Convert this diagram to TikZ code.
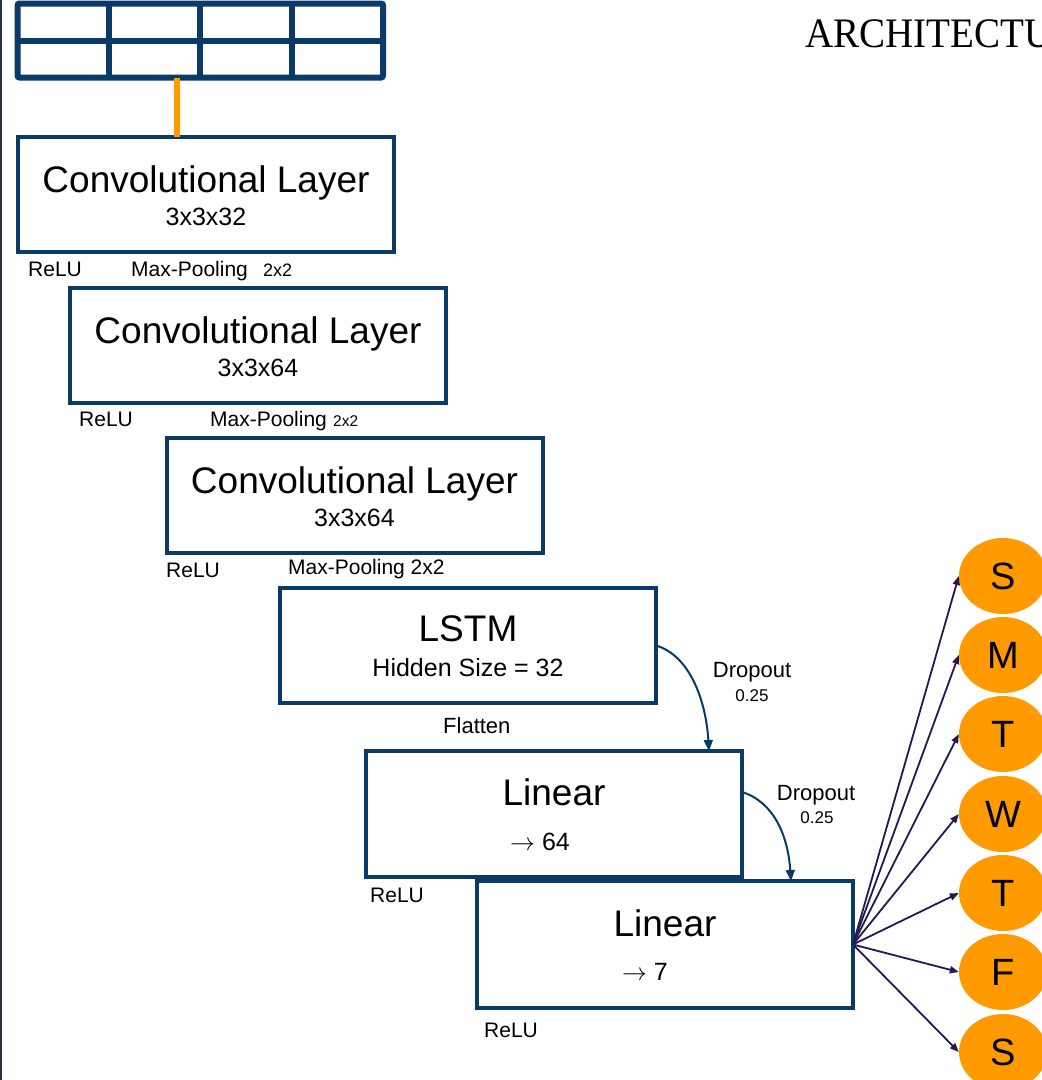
\documentclass[tikz,border=0pt]{standalone}
\usepackage{fontspec}
\setmainfont{Liberation Sans}
\newfontfamily\headfont[FakeStretch=0.93]{Liberation Serif}
\usetikzlibrary{arrows.meta,shapes.geometric,calc}
\definecolor{navy}{HTML}{0C3A66}
\definecolor{ink}{HTML}{221A50}
\definecolor{amber}{HTML}{FF9A00}
\definecolor{edgegray}{HTML}{2B3340}
\newcommand\setfs[1]{\fontsize{#1pt}{#1pt}\selectfont}

\begin{document}
\begin{tikzpicture}[x=1pt,y=-1pt,
  layer/.style={rectangle,draw=navy,line width=3.5pt,fill=white,anchor=north west,
    minimum width=376pt,minimum height=115pt,inner sep=0pt,outer sep=0pt},
  big/.style={inner sep=0pt,anchor=base,font=\setfs{37}},
  sub/.style={inner sep=0pt,anchor=base,font=\setfs{25}},
  note/.style={inner sep=0pt,anchor=base west,font=\setfs{21}},
  dlabel/.style={inner sep=0pt,anchor=base,font=\setfs{22}},
  drate/.style={inner sep=0pt,anchor=base,font=\setfs{17}},
  drop/.style={draw=navy,line width=2pt,-{Triangle[length=11pt,width=9pt]}},
  fan/.style={draw=ink,line width=1.8pt,-{Triangle[length=9pt,width=7pt]}},
  day/.style={ellipse,fill=amber,minimum width=88pt,minimum height=76pt,inner sep=0pt,
    font=\setfs{38}},
]
\useasboundingbox (0,0) rectangle (1042,1080);
\clip (0,0) rectangle (1042,1080);
\fill[white] (0,0) rectangle (1042,1080);
\draw[edgegray,line width=2pt] (1,0) -- (1,1080);

% title
\node[inner sep=0pt,anchor=base west,font=\headfont\setfs{42}] (title) at (805,47) {ARCHITECTU};

% input grid (2 x 4 cells)
\node[rectangle,draw=navy,line width=6pt,rounded corners=2pt,anchor=north west,
  minimum width=365.5pt,minimum height=74pt,inner sep=0pt,outer sep=0pt] (input) at (17.5,3.5) {};
\draw[navy,line width=6pt] (input.west) -- (input.east);
\foreach \k in {1,2,3}
  \draw[navy,line width=6pt] ($(input.north west)!\k/4!(input.north east)$)
                          -- ($(input.south west)!\k/4!(input.south east)$);

% layer boxes
\node[layer] (c1) at (18,137) {};
\node[layer] (c2) at (70,288) {};
\node[layer] (c3) at (167,438) {};
\node[layer] (lstm) at (280,588) {};
\node[layer,minimum height=126pt] (lin1) at (366,751) {};
\node[layer,minimum height=127pt] (lin2) at (477,881) {};

% feed from the input grid
\coordinate (tap) at (177,80);
\draw[amber,line width=5.5pt] (tap |- input.south) -- (tap |- c1.north);

% box texts
\node[big] (c1t) at (206,192) {Convolutional Layer};
\node[sub] (c1s) at (206,225) {3x3x32};
\node[big] (c2t) at (258,343) {Convolutional Layer};
\node[sub] (c2s) at (258,376) {3x3x64};
\node[big] (c3t) at (354.5,493) {Convolutional Layer};
\node[sub] (c3s) at (354.5,526) {3x3x64};
\node[big] (lstmt) at (468,641) {LSTM};
\node[sub] (lstms) at (468,676) {Hidden Size = 32};
\node[big] (lin1t) at (554,805) {Linear};
\node[sub] (lin1s) at (540,850) {$\rightarrow$ 64};
\node[big] (lin2t) at (665,936) {Linear};
\node[sub] (lin2s) at (645,980) {$\rightarrow$ 7};

% activation / pooling notes
\node[note] (r1) at (28,276) {ReLU};
\node[note] (m1) at (131,276) {Max-Pooling};
\node[note,font=\setfs{18}] (k1) at (263,276) {2x2};
\node[note] (r2) at (79,426) {ReLU};
\node[note] (m2) at (210,426) {Max-Pooling};
\node[note,font=\setfs{15.5}] (k2) at (333,426) {2x2};
\node[note] (r3) at (166,577) {ReLU};
\node[note] (m3) at (288,574) {Max-Pooling 2x2};
\node[note,font=\setfs{22}] (fl) at (443,733) {Flatten};
\node[note] (r4) at (370,902) {ReLU};
\node[note] (r5) at (484,1037) {ReLU};

% dropout connectors
\node[dlabel] (d1) at (752,677) {Dropout};
\node[drate] (d1r) at (752,701) {0.25};
\node[dlabel] (d2) at (816,800) {Dropout};
\node[drate] (d2r) at (817,823) {0.25};
\draw[drop] (lstm.east) .. controls +(34,10) and +(-3,-50) .. ($(lin1.north west)+(343,0)$);
\draw[drop] ($(lin1.north east)+(0,41)$) .. controls +(32,10) and +(-3,-45) .. ($(lin2.north west)+(314,0)$);

% output classes
\node[day] (o1) at (1003,576) {S};
\node[day] (o2) at (1003,655) {M};
\node[day] (o3) at (1003,734) {T};
\node[day] (o4) at (1003,814) {W};
\node[day] (o5) at (1003,893) {T};
\node[day] (o6) at (1003,972) {F};
\node[day] (o7) at (1003,1052) {S};
\foreach \i in {1,...,7}
  \draw[fan] (lin2.east) -- (o\i.west);
\end{tikzpicture}
\end{document}
